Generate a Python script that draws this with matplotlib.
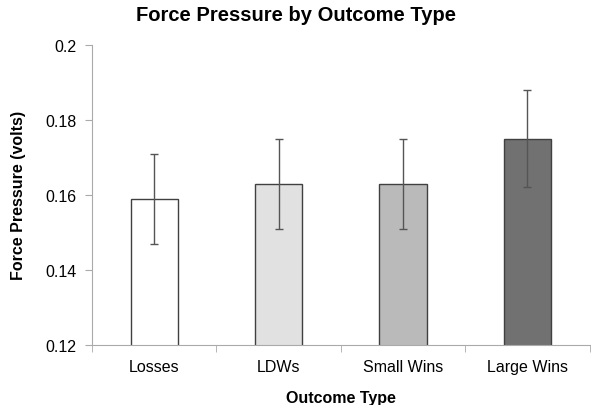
import matplotlib
matplotlib.use('Agg')
import matplotlib.pyplot as plt
import numpy as np

plt.rcParams['font.family'] = ['Liberation Sans', 'DejaVu Sans']

categories = ['Losses', 'LDWs', 'Small Wins', 'Large Wins']
values = [0.159, 0.163, 0.163, 0.175]
errors = [0.012, 0.012, 0.012, 0.013]
colors = ['#ffffff', '#e1e1e1', '#bababa', '#717171']

fig = plt.figure(figsize=(5.91, 4.06), dpi=100)
ax = fig.add_axes([0.1557, 0.148, 0.842, 0.739])

x = np.arange(len(categories))
ax.bar(x, values, width=0.38, color=colors, edgecolor='#404040', linewidth=1.0,
       bottom=0, zorder=2)
ax.errorbar(x, values, yerr=errors, fmt='none', ecolor='#555555', elinewidth=1.0,
            capsize=3, capthick=1.0, zorder=3)

ax.set_xlim(-0.5, len(categories) - 0.5)
ax.set_ylim(0.12, 0.2)
ax.set_yticks([0.12, 0.14, 0.16, 0.18, 0.2])
ax.set_yticklabels(['0.12', '0.14', '0.16', '0.18', '0.2'])

ax.set_xticks(x)
ax.set_xticklabels(categories)
ax.set_xticks(np.arange(len(categories) + 1) - 0.5, minor=True)
ax.tick_params(axis='x', which='major', length=0, pad=10, labelsize=11.5)
ax.tick_params(axis='x', which='minor', length=5, color='#aaaaaa', direction='out')
ax.tick_params(axis='y', length=5, color='#aaaaaa', direction='out', labelsize=11.5, pad=6)

for s in ['top', 'right']:
    ax.spines[s].set_visible(False)
for s in ['left', 'bottom']:
    ax.spines[s].set_color('#aaaaaa')

fig.suptitle('Force Pressure by Outcome Type', fontsize=14.5, fontweight='bold',
             x=0.5, y=0.985)
ax.set_xlabel('Outcome Type', fontsize=11.5, fontweight='bold', labelpad=12)
ax.set_ylabel('Force Pressure (volts)', fontsize=11.5, fontweight='bold', labelpad=14)

fig.savefig('out.png', dpi=100)
